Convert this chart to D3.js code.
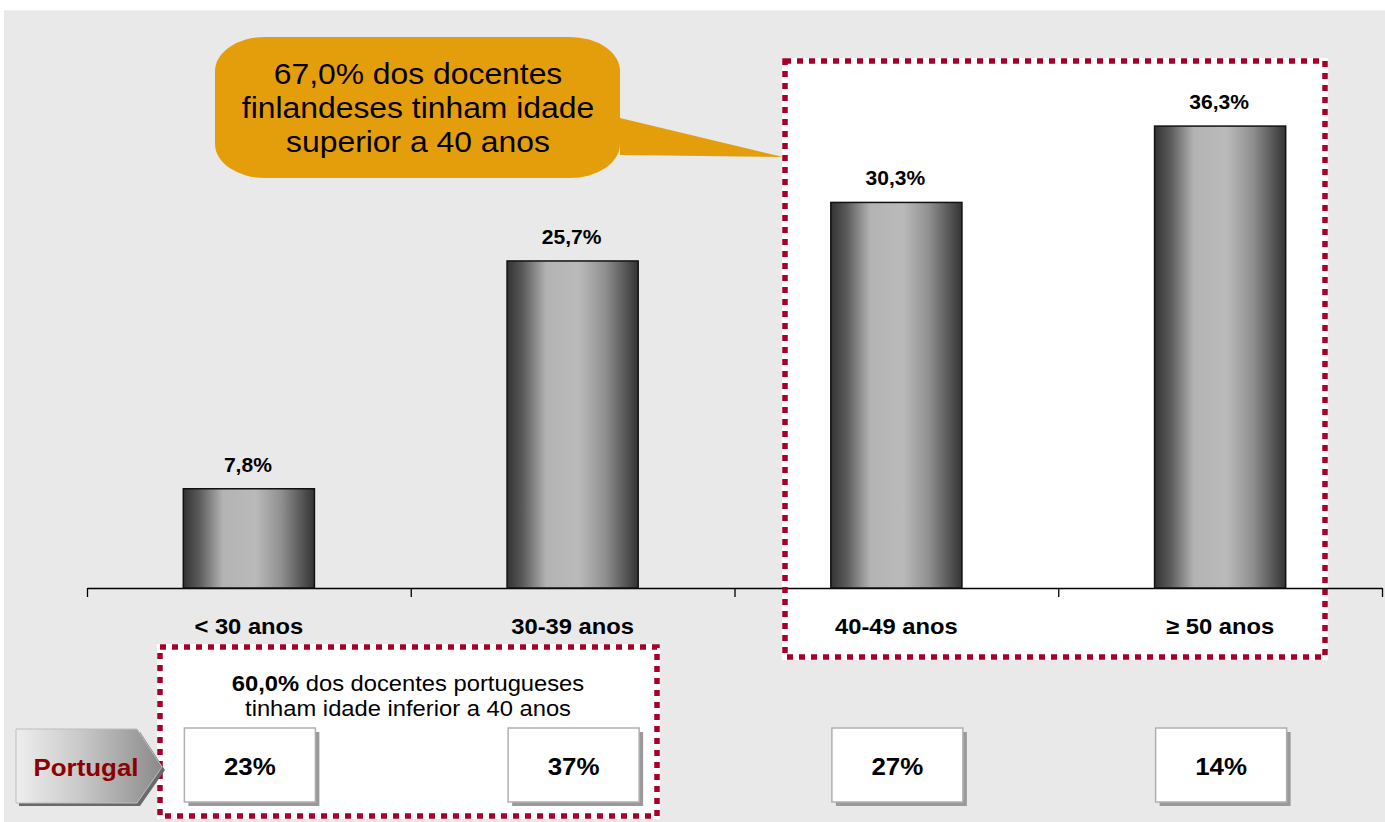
<!DOCTYPE html>
<html lang="pt">
<head>
<meta charset="utf-8">
<script src="https://cdn.jsdelivr.net/npm/d3@7"></script>
<style>
  html, body { margin: 0; padding: 0; background: #fff; }
  svg { display: block; font-family: "Liberation Sans", Arial, sans-serif; }
</style>
</head>
<body>
<svg id="chart" width="1385" height="822"></svg>
<script>
// Age groups of Finnish teachers (share, %)
const categories = ["< 30 anos", "30-39 anos", "40-49 anos", "\u2265 50 anos"];
const finlandValues = [7.8, 25.7, 30.3, 36.3];
const finlandLabels = ["7,8%", "25,7%", "30,3%", "36,3%"];
// Same age groups for Portugal
const portugalValues = [23, 37, 27, 14];
const portugalLabels = ["23%", "37%", "27%", "14%"];
const yDomain = [0, 40];

const calloutLines = ["67,0% dos docentes", "finlandeses tinham idade", "superior a 40 anos"];
const noteBold = "60,0%";
const noteRest = " dos docentes portugueses";
const noteLine2 = "tinham idade inferior a 40 anos";
const rowLabel = "Portugal";

const svg = d3.select("#chart");
const red = "#a6002a";
const SX = 1.08; // slight horizontal widening of the lettering

// Places a text element at (x, y) with the horizontal widening applied
function placeText(sel, fx, fy) {
  return sel.attr("x", 0).attr("y", 0)
    .attr("transform", (d, i) => `translate(${fx(d, i)},${fy(d, i)}) scale(${SX},1)`);
}

// Defs: bar gradient, arrow gradient
const defs = svg.append("defs");
const barGrad = defs.append("linearGradient").attr("id", "barGrad")
  .attr("x1", "0%").attr("x2", "100%").attr("y1", "0%").attr("y2", "0%");
[["0%", "#333333"], ["12%", "#5a5a5a"], ["30%", "#b3b3b3"], ["55%", "#bababa"], ["75%", "#8f8f8f"], ["100%", "#333333"]]
  .forEach(([o, c]) => barGrad.append("stop").attr("offset", o).attr("stop-color", c));
const arrGrad = defs.append("linearGradient").attr("id", "arrGrad")
  .attr("x1", "0%").attr("x2", "100%").attr("y1", "0%").attr("y2", "0%");
[["0%", "#eeeeee"], ["45%", "#c8c8c8"], ["100%", "#8a8a8a"]]
  .forEach(([o, c]) => arrGrad.append("stop").attr("offset", o).attr("stop-color", c));

// Background panel
svg.append("rect").attr("x", 4).attr("y", 10).attr("width", 1381).attr("height", 812)
  .attr("fill", "#e9e9e9");
svg.append("line").attr("x1", 4).attr("x2", 1385).attr("y1", 10.5).attr("y2", 10.5)
  .attr("stroke", "#f1f1f1");

// Scales
const plotLeft = 87, plotRight = 1382, baseY = 588;
const x = d3.scaleBand().domain(categories).range([plotLeft, plotRight]).padding(0);
const xEdge = d3.scaleLinear().domain([0, categories.length]).range([plotLeft, plotRight]);
const y = d3.scaleLinear().domain(yDomain).range([baseY, 79]);
const barW = x.bandwidth() * 0.405;
const cx = d => x(d) + x.bandwidth() / 2;

// Highlight boxes (white fill under the chart)
const bigBox = { x0: 785, y0: 61, x1: 1325, y1: 657 };
const smallBox = { x0: 160, y0: 647, x1: 657, y1: 816 };
[bigBox, smallBox].forEach(b => {
  svg.append("rect").attr("x", b.x0 - 3).attr("y", b.y0 - 3)
    .attr("width", b.x1 - b.x0 + 6).attr("height", b.y1 - b.y0 + 6).attr("fill", "#fff");
});

// Axis with tick marks at the group boundaries
svg.append("g").attr("transform", `translate(0,${baseY})`)
  .call(d3.axisBottom(xEdge).tickValues(d3.range(0, categories.length + 1)).tickSize(9).tickSizeOuter(0).tickFormat(""))
  .call(g => g.select(".domain").attr("stroke", "#000").attr("stroke-width", 1.3))
  .call(g => g.selectAll(".tick line").attr("stroke", "#000").attr("stroke-width", 1.3));

// Bars
svg.append("g").selectAll("rect").data(categories).join("rect")
  .attr("x", d => cx(d) - barW / 2)
  .attr("y", (d, i) => y(finlandValues[i]))
  .attr("width", barW)
  .attr("height", (d, i) => baseY - y(finlandValues[i]))
  .attr("fill", "url(#barGrad)")
  .attr("stroke", "#111").attr("stroke-width", 1.5);

// Value labels
placeText(svg.append("g").selectAll("text").data(categories).join("text"),
    d => cx(d) - 1, (d, i) => y(finlandValues[i]) - 17)
  .attr("text-anchor", "middle")
  .attr("font-size", 19.5).attr("font-weight", "bold").attr("fill", "#000")
  .text((d, i) => finlandLabels[i]);

// Category labels
placeText(svg.append("g").selectAll("text").data(categories).join("text"),
    d => cx(d), () => 634)
  .attr("text-anchor", "middle")
  .attr("font-size", 22).attr("font-weight", "bold").attr("fill", "#000")
  .text(d => d);

// Dotted borders
[bigBox, smallBox].forEach(b => {
  svg.append("rect").attr("x", b.x0).attr("y", b.y0)
    .attr("width", b.x1 - b.x0).attr("height", b.y1 - b.y0)
    .attr("fill", "none").attr("stroke", red).attr("stroke-width", 5.5)
    .attr("stroke-dasharray", "6,6");
});

// Callout bubble
const cb = { x0: 215, y0: 37, x1: 620, y1: 178, rx: 50, ry: 34 };
const tip = [783, 157];
svg.append("path")
  .attr("d", `M${cb.x0 + cb.rx},${cb.y0} L${cb.x1 - cb.rx},${cb.y0}
    A${cb.rx},${cb.ry} 0 0 1 ${cb.x1},${cb.y0 + cb.ry}
    L${cb.x1},118 L${tip[0]},${tip[1]} L${cb.x1},155
    L${cb.x1},${cb.y1 - cb.ry}
    A${cb.rx},${cb.ry} 0 0 1 ${cb.x1 - cb.rx},${cb.y1}
    L${cb.x0 + cb.rx},${cb.y1}
    A${cb.rx},${cb.ry} 0 0 1 ${cb.x0},${cb.y1 - cb.ry}
    L${cb.x0},${cb.y0 + cb.ry}
    A${cb.rx},${cb.ry} 0 0 1 ${cb.x0 + cb.rx},${cb.y0} Z`)
  .attr("fill", "#e59e0b");
placeText(svg.append("g").selectAll("text").data(calloutLines).join("text"),
    () => 418, (d, i) => 84 + i * 34)
  .attr("text-anchor", "middle")
  .attr("font-size", 29.5).attr("fill", "#000")
  .text(d => d);

// Note about Portugal
const note = placeText(svg.append("text").datum(0), () => 408, () => 691)
  .attr("text-anchor", "middle").attr("font-size", 22).attr("fill", "#000");
note.append("tspan").attr("font-weight", "bold").text(noteBold);
note.append("tspan").text(noteRest);
placeText(svg.append("text").datum(0), () => 408, () => 716)
  .attr("text-anchor", "middle").attr("font-size", 22).attr("fill", "#000")
  .text(noteLine2);

// Portugal row label (arrow shape)
const arrow = [[16, 729], [137, 729], [162, 767], [137, 803], [16, 803]];
svg.append("polygon").attr("points", arrow.map(p => [p[0] + 3, p[1] + 3].join(",")).join(" "))
  .attr("fill", "#6a6a6a");
svg.append("polygon").attr("points", arrow.map(p => p.join(",")).join(" "))
  .attr("fill", "url(#arrGrad)").attr("stroke", "#bdbdbd").attr("stroke-width", 1);
placeText(svg.append("text").datum(0), () => 86, () => 776)
  .attr("text-anchor", "middle")
  .attr("font-size", 24).attr("font-weight", "bold").attr("fill", "#8b0000")
  .text(rowLabel);

// Portugal value boxes
const boxW = 131, boxTop = 728, boxH = 74;
const pg = svg.append("g").selectAll("g").data(categories).join("g")
  .attr("transform", d => `translate(${cx(d) + 1 - boxW / 2},${boxTop})`);
pg.append("rect").attr("x", 4).attr("y", 4).attr("width", boxW).attr("height", boxH).attr("fill", "#9a9a9a");
pg.append("rect").attr("width", boxW).attr("height", boxH).attr("fill", "#fff")
  .attr("stroke", "#b0b0b0").attr("stroke-width", 1.5);
placeText(pg.append("text"), () => boxW / 2, () => boxH / 2 + 10)
  .attr("text-anchor", "middle")
  .attr("font-size", 24).attr("font-weight", "bold").attr("fill", "#000")
  .text((d, i) => portugalLabels[i]);
</script>
</body>
</html>
